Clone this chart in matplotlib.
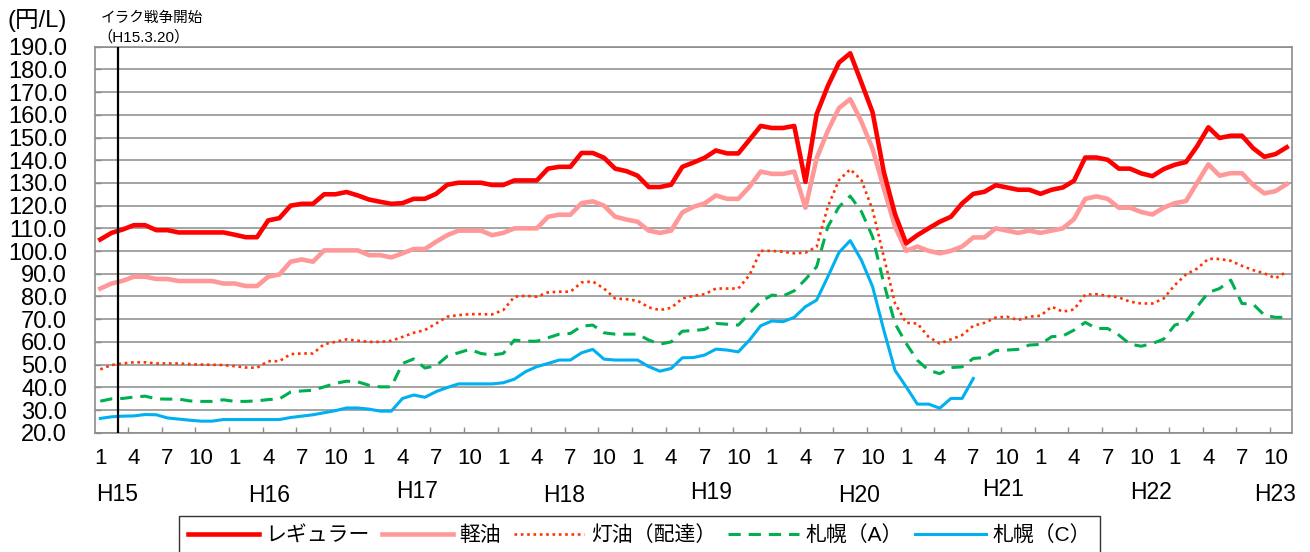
import matplotlib
matplotlib.use("Agg")
import matplotlib.pyplot as plt
import matplotlib.transforms as mtransforms
import numpy as np

plt.rcParams['font.family'] = ['Liberation Sans', 'Noto Sans CJK JP']

# monthly prices, H15.1 - H23.11 (円/L)
regular = [105.1, 108, 109.5, 111.4, 111.4, 109.2, 109.2, 108.2, 108.2, 108.2, 108.2, 108.2, 107.2, 106.1,
           106.1, 113.5, 114.5, 120, 120.8, 120.8, 125, 125, 126, 124.5, 122.7, 121.7, 120.8,
           121.1, 123, 123, 125.2, 129.2, 130.1, 130.1, 130.1, 129.1, 129.1, 131.1, 131.1, 131.1, 136.3,
           137.1, 137.1, 143.2, 143.2, 141.1, 136.3, 135.2, 133.2, 128.2, 128.2, 129.2, 137.1, 139,
           141.1, 144.3, 143, 143, 149, 155.1, 154.2, 154.2, 155.1, 130.5, 160.3, 172.7, 183, 187.1,
           174.2, 161.1, 134.9, 116.3, 103.4, 107, 110, 112.9, 115.1, 121, 125.2, 126.1, 129,
           128, 127, 127, 125.2, 127, 128, 131, 141.2, 141.2, 140.2, 136.3, 136.3, 134.2, 133,
           136.1, 138, 139.2, 146.2, 154.5, 149.8, 150.8, 150.8, 145.3, 141.5, 142.7, 145.7]
diesel = [83.5, 85.7, 86.9, 88.7, 88.7, 87.7, 87.7, 86.8, 86.8, 86.8, 86.8, 85.7, 85.7, 84.6,
          84.6, 88.7, 89.7, 95.3, 96.3, 95.3, 100.3, 100.3, 100.3, 100.3, 98.2, 98.2, 97.2,
          99, 100.9, 100.9, 104.1, 107, 109, 109, 109, 107, 108, 110, 110, 110, 115.1,
          116, 116, 121.1, 121.9, 120, 115.1, 113.9, 112.9, 109, 108, 109, 117, 119.5,
          121, 124.5, 123, 123, 128.3, 135, 134, 134, 135, 119.1, 140.8, 153, 163, 166.9,
          157, 145, 127.6, 110.8, 100.1, 102, 100.1, 99, 100.1, 102, 106, 106, 110,
          109, 108, 109, 108, 109, 110, 114.1, 123, 124.1, 123, 119.1, 119.1, 117.2, 116.1,
          119.1, 121.1, 122, 130.1, 138.2, 133.2, 134.3, 134.3, 129.1, 125.4, 126.4, 129.5]
kerosene = [47.9, 49.8, 50.5, 51, 51, 50.5, 50.5, 50.5, 50.2, 50, 49.9, 49.8, 49.3, 48.7,
            48.6, 51.5, 51.5, 54.6, 54.9, 54.9, 59, 60, 61.1, 60.5, 60, 60, 60.5,
            62.2, 64, 65.2, 68.1, 71.1, 71.8, 72.2, 72.2, 72.1, 74, 79.9, 80.3, 79.9, 81.8,
            82.1, 82.1, 86.2, 86.6, 83.5, 79.1, 78.8, 78.1, 75.2, 74, 75, 79.1, 80.3,
            81, 83.5, 83.5, 83.5, 89.4, 100.1, 100.1, 99.7, 99, 99.3, 101.9, 119.5, 131.3, 136,
            131.3, 118.1, 97.5, 77, 68.4, 68.1, 62.2, 59.3, 61.1, 63, 67.1, 68.4, 70.7,
            71.1, 69.6, 71.1, 71.5, 75.5, 73.3, 74.3, 80.8, 81, 80.2, 79.6, 77.7, 76.9, 76.9,
            79.1, 85, 89.7, 92.3, 96.6, 96.5, 95.7, 93.5, 91.6, 90.2, 88, 90.9]
sapporo_a = [33.9, 34.9, 35.1, 35.7, 36.1, 34.9, 34.8, 34.8, 34, 33.8, 33.8, 34.5, 33.8, 33.8,
             34, 34.6, 34.9, 37.9, 38.4, 38.7, 40.2, 41.7, 42.7, 42.4, 40.9, 40.2, 40.2,
             50.5, 52.5, 48.5, 49.5, 53.7, 55.2, 56.7, 54.9, 54.2, 54.9, 60.8, 60.3, 60.3, 61.8,
             63.4, 63.7, 66.9, 67.4, 64, 63.4, 63.4, 63.4, 60.8, 59, 60, 64.7, 65,
             65.5, 68.1, 67.8, 67.4, 72.5, 77.7, 80.6, 80.2, 82.5, 87.5, 93.1, 110.7, 119.5, 124.2,
             117.4, 106.3, 85.8, 68.1, 59.3, 51.9, 47.5, 46, 48.7, 49, 52.7, 53.1, 56.2,
             56.4, 56.7, 58.6, 58.9, 62.3, 62.6, 65.2, 68.6, 65.9, 65.9, 63, 59, 58.1, 59.3,
             61.2, 67.4, 68.9, 75.5, 81.8, 83.5, 87.2, 76.9, 76.6, 71.8, 70.8, 70.8]
sapporo_c = [26.3, 27, 27.3, 27.4, 28, 27.9, 26.5, 26, 25.5, 25.1, 25.1, 25.8, 25.8, 25.8,
             25.8, 25.8, 25.8, 26.7, 27.3, 27.9, 28.8, 29.7, 30.9, 30.9, 30.4, 29.5, 29.5,
             35.1, 36.6, 35.6, 38.1, 39.9, 41.5, 41.5, 41.5, 41.5, 42, 43.6, 46.9, 49.1, 50.5,
             52, 52, 55.2, 56.7, 52.4, 52, 52, 52, 49.1, 47.1, 48.3, 53, 53.1,
             54.2, 56.8, 56.4, 55.6, 60.8, 67.1, 69.2, 68.9, 70.8, 75.5, 78.4, 88.7, 99.4, 104.6,
             96, 84.3, 65.2, 47.5, 40.2, 32.6, 32.6, 30.8, 35.1, 35.1, 43.9]

month_labels = ["1", "4", "7", "10"]
year_labels = ["H15", "H16", "H17", "H18", "H19", "H20", "H21", "H22", "H23"]
series_names = ["レギュラー", "軽油", "灯油（配達）", "札幌（A）", "札幌（C）"]

fig = plt.figure(figsize=(13.1, 5.52), dpi=100)
ax = fig.add_axes([0.0723, 0.2161, 0.9142, 0.6993])

x = np.arange(len(regular))
ax.plot(x, regular, color="#FF0000", lw=3.3, label=series_names[0], zorder=5)
ax.plot(x, diesel, color="#FF9999", lw=3.3, label=series_names[1], zorder=4)
ax.plot(x, kerosene, color="#FF3300", lw=1.9, linestyle=(0, (1, 1.4)), label=series_names[2], zorder=3)
ax.plot(np.arange(len(sapporo_a)), sapporo_a, color="#00B050", lw=2.2, linestyle=(0, (4, 2.6)),
        label=series_names[3], zorder=3)
ax.plot(np.arange(len(sapporo_c)), sapporo_c, color="#00B0F0", lw=2.2, label=series_names[4], zorder=3)

# イラク戦争開始 line
ax.axvline(1.58, color="black", lw=1.6, zorder=6)

ax.set_xlim(-0.5, len(regular) - 0.5)
ax.set_ylim(20, 190)
ax.set_yticks(np.arange(20, 191, 10))
ax.set_yticklabels([f"{v:.1f}" for v in np.arange(20, 191, 10)])
ax.yaxis.grid(True, color="#8C8C8C", lw=1.1)
ax.set_axisbelow(True)

ax.set_xticks(np.arange(0, len(regular), 3))
ax.set_xticklabels([month_labels[k % 4] for k in range(len(ax.get_xticks()))])
ax.set_xticks(np.arange(2.5, len(regular) - 1, 3), minor=True)
ax.tick_params(axis="x", which="major", length=0, pad=11, labelsize=16)
ax.tick_params(axis="x", which="minor", direction="in", length=4.5, width=1, color="#8C8C8C")
ax.tick_params(axis="y", direction="in", length=4.5, width=1, color="#8C8C8C", pad=20, labelsize=17)
for s in ax.spines.values():
    s.set_color("#8C8C8C")
    s.set_linewidth(1.2)

# year labels under the months
year_pos = [1.5, 15.1, 28.3, 41.4, 54.6, 67.8, 80.7, 93.9, 105.0]
year_y = [0.105, 0.103, 0.110, 0.103, 0.107, 0.102, 0.114, 0.107, 0.105]
trans = mtransforms.blended_transform_factory(ax.transData, fig.transFigure)
for lab, xp, yp in zip(year_labels, year_pos, year_y):
    ax.text(xp, yp, lab, transform=trans, ha="center", va="center", fontsize=16.5)

fig.text(0.006, 0.962, "(円/L)", fontsize=17, va="center", ha="left")
fig.text(0.077, 0.967, "イラク戦争開始", fontsize=10.5, va="center", ha="left")
fig.text(0.074, 0.933, "（H15.3.20）", fontsize=11, va="center", ha="left")

leg = fig.legend(loc="upper left", bbox_to_anchor=(0.1366, 0.0652), ncol=5, fontsize=15,
                 frameon=True, fancybox=False, edgecolor="black", handlelength=3.4,
                 handletextpad=0.3, columnspacing=0.6, borderpad=0.45, borderaxespad=0)
leg.get_frame().set_linewidth(1.0)

fig.savefig("out.png", dpi=100)
